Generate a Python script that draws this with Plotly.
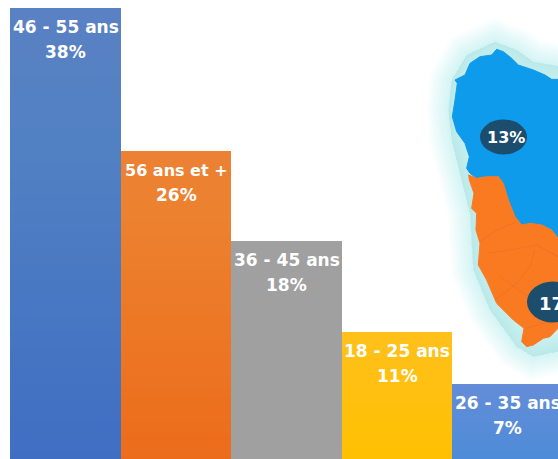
import plotly.graph_objects as go

categories = ["46 - 55 ans", "56 ans et +", "36 - 45 ans", "18 - 25 ans", "26 - 35 ans"]
percent_labels = ["38%", "26%", "18%", "11%", "7%"]
bar_heights = [38, 26.2, 18.8, 11.3, 7]
bar_colors = ["#3f6ec3", "#ec6c1a", "#a0a0a0", "#ffc000", "#4a8cd8"]
band_alpha = [0.006, 0.007, 0.005, 0.006, 0.007]
map_labels = ["13%", "17%"]

W, H = 558, 459
N_BANDS = 26

xs = list(range(len(categories)))
fig = go.Figure()
fig.add_trace(go.Bar(x=xs, y=bar_heights, marker=dict(color=bar_colors, line=dict(width=0)),
                     width=1, hoverinfo="skip", showlegend=False))
for i in range(1, N_BANDS + 1):
    frac = i / (N_BANDS + 1)
    fig.add_trace(go.Bar(
        x=xs, base=[v * frac for v in bar_heights], y=[v * (1 - frac) for v in bar_heights],
        marker=dict(color=[f"rgba(255,255,255,{a})" for a in band_alpha], line=dict(width=0)),
        width=1, hoverinfo="skip", showlegend=False))


def zp(points):
    return [((420 + x / 3) / W, 1 - (y / 3) / H) for x, y in points]


def path(points, close=True):
    s = "M" + " L".join(f"{x:.5f},{y:.5f}" for x, y in zp(points))
    return s + (" Z" if close else "")


blue = [(230, 148), (250, 155), (275, 175), (295, 195), (340, 210), (375, 225), (395, 238), (440, 238),
        (440, 730), (414, 715), (395, 690), (365, 675), (330, 670), (305, 675), (285, 650), (265, 600),
        (250, 550), (235, 530), (200, 530), (170, 535), (150, 520), (140, 505), (148, 470), (135, 430),
        (110, 395), (97, 350), (105, 300), (112, 250), (105, 240), (135, 225), (150, 190), (180, 170), (215, 165)]
orange = [(146, 525), (170, 535), (200, 530), (235, 530), (250, 550), (265, 600), (285, 650), (305, 675),
          (330, 670), (365, 675), (395, 690), (414, 715), (440, 730), (440, 965), (414, 985), (390, 1010),
          (370, 1015), (340, 1035), (320, 1040), (305, 1025), (312, 985), (280, 960), (230, 910), (200, 840),
          (175, 795), (180, 730), (168, 690), (170, 640), (155, 625), (162, 580), (148, 540)]
# smooth closed hull used only for the soft sea glow round the island
glow = [(225, 125), (290, 150), (340, 185), (480, 210), (480, 1040), (340, 1070), (290, 1040), (210, 930),
        (160, 810), (150, 640), (120, 520), (95, 420), (85, 330), (95, 240), (140, 165)]
rivers = [[(180, 725), (230, 690), (290, 665)], [(200, 760), (270, 750), (350, 735), (414, 770)],
          [(225, 900), (290, 850), (330, 800), (345, 750)], [(315, 985), (370, 970), (414, 965)],
          [(240, 830), (310, 880), (340, 900)]]

shapes = []
for width in (44, 40, 36, 32, 28, 24, 20, 16, 12, 8, 4):
    col = "rgba(140,226,220,0.035)"
    shapes.append(dict(type="path", xref="paper", yref="paper", layer="below", path=path(glow),
                       fillcolor=col, line=dict(color=col, width=width)))
shapes.append(dict(type="path", xref="paper", yref="paper", layer="below", path=path(blue),
                   fillcolor="#0f9bec", line=dict(color="#0f9bec", width=1)))
shapes.append(dict(type="path", xref="paper", yref="paper", layer="below", path=path(orange),
                   fillcolor="#fa7a22", line=dict(color="#fa7a22", width=1)))
for r in rivers:
    shapes.append(dict(type="path", xref="paper", yref="paper", layer="below", path=path(r, close=False),
                       line=dict(color="rgba(170,90,40,0.25)", width=0.7)))
for cx, cy, rx, ry in [(503.5, 137, 23.5, 17.5), (553, 302, 26, 20.5)]:
    shapes.append(dict(type="circle", xref="paper", yref="paper", layer="below",
                       x0=(cx - rx) / W, x1=(cx + rx) / W, y0=1 - (cy + ry) / H, y1=1 - (cy - ry) / H,
                       fillcolor="#1c4d6c", line=dict(width=0)))

FONT = "DejaVu Sans"
annotations = []
for x, v, c, p in zip(xs, bar_heights, categories, percent_labels):
    annotations.append(dict(x=x, y=v, xref="x", yref="y", yanchor="middle", xanchor="center", yshift=-19,
                            text=c, showarrow=False,
                            font=dict(family=FONT, size=16 if "et" in c else 17, color="#ffffff", weight="bold")))
    annotations.append(dict(x=x, y=v, xref="x", yref="y", yanchor="middle", xanchor="center", yshift=-44,
                            text=p, showarrow=False,
                            font=dict(family=FONT, size=17, color="#ffffff", weight="bold")))
annotations.append(dict(x=506 / W, y=1 - 137 / H, xref="paper", yref="paper", text=map_labels[0],
                        xanchor="center", yanchor="middle", showarrow=False,
                        font=dict(family=FONT, size=16, color="#fff", weight="bold")))
annotations.append(dict(x=537 / W, y=1 - 303 / H, xref="paper", yref="paper", text=map_labels[1],
                        xanchor="left", yanchor="middle", showarrow=False,
                        font=dict(family=FONT, size=18, color="#fff", weight="bold")))

fig.update_layout(
    width=W, height=H, margin=dict(l=0, r=0, t=0, b=0), barmode="overlay", bargap=0,
    paper_bgcolor="#ffffff", plot_bgcolor="rgba(0,0,0,0)", shapes=shapes, annotations=annotations,
    xaxis=dict(range=[-0.593, 4.457], visible=False, fixedrange=True),
    yaxis=dict(range=[0.82, 38.66], visible=False, fixedrange=True),
)
fig.write_html("out.html", config={"displayModeBar": False}, default_width=f"{W}px", default_height=f"{H}px",
               post_script="document.body.style.margin='0';document.body.style.overflow='hidden';")
